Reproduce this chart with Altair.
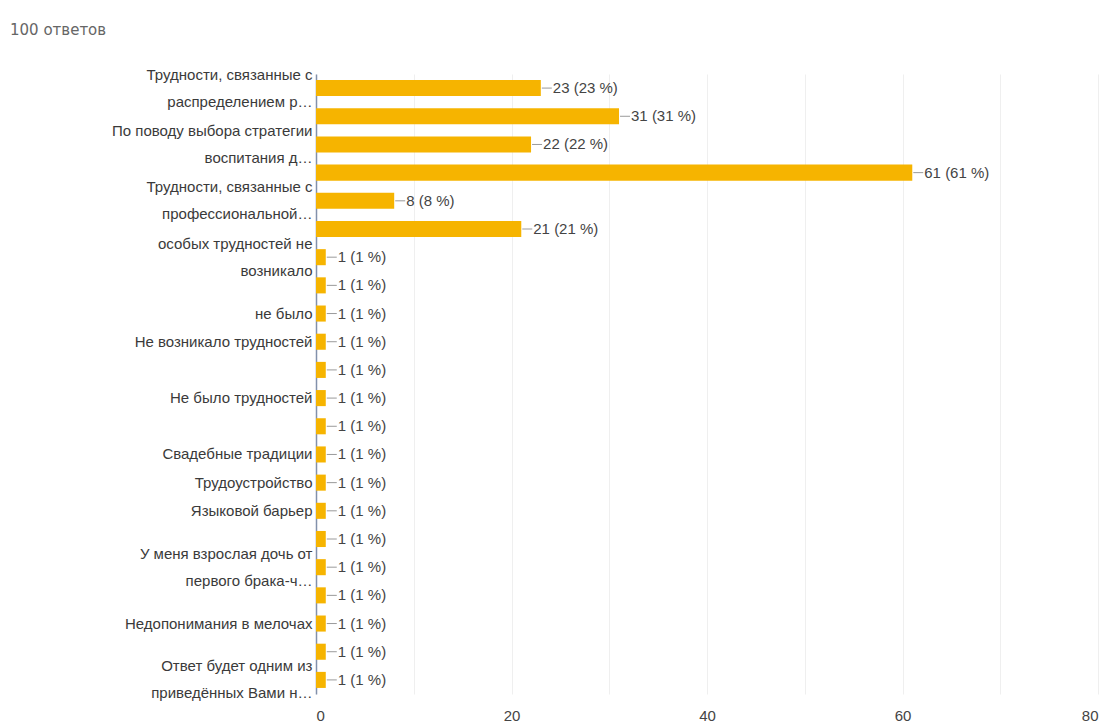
import json
import altair as alt
import pandas as pd

# --- data ---
labels = [
    "Трудности, связанные с|распределением р…",
    "",
    "По поводу выбора стратегии|воспитания д…",
    "",
    "Трудности, связанные с|профессиональной…",
    "",
    "особых трудностей не|возникало",
    "",
    "не было",
    "Не возникало трудностей",
    "",
    "Не было трудностей",
    "",
    "Свадебные традиции",
    "Трудоустройство",
    "Языковой барьер",
    "",
    "У меня взрослая дочь от|первого брака-ч…",
    "",
    "Недопонимания в мелочах",
    "",
    "Ответ будет одним из|приведённых Вами н…",
]
values = [23, 31, 22, 61, 8, 21] + [1] * 16
total = 100
x_ticks = [0, 10, 20, 30, 40, 50, 60, 70, 80]

df = pd.DataFrame({
    "idx": list(range(len(values))),
    "value": values,
})
df["ann"] = [f"{v} ({round(v * 100 / total)} %)" for v in values]

FONT = "Liberation Sans"
labels_js = json.dumps(labels, ensure_ascii=False)
label_expr = f"split({labels_js}[datum.value], '|')"
multi_test = f"indexof({labels_js}[datum.value], '|') >= 0"

y_enc = alt.Y(
    "idx:O",
    scale=alt.Scale(paddingInner=0.43, paddingOuter=0.215),
    axis=alt.Axis(
        title=None,
        ticks=False,
        grid=False,
        domain=True,
        domainColor="#8291ab",
        domainWidth=1.5,
        labelExpr=label_expr,
        labelFont=FONT,
        labelFontSize=15,
        labelColor="#3a3a3a",
        labelPadding=4,
        labelLimit=0,
        labelOverlap=False,
        labelLineHeight=27,
        labelBaseline="middle",
        labelOffset={"condition": {"test": multi_test, "value": -13.5}, "value": 0},
        minExtent=306,
        maxExtent=306,
    ),
)

x_enc = alt.X(
    "value:Q",
    scale=alt.Scale(domain=[0, 80], nice=False),
    axis=alt.Axis(
        title=None,
        values=x_ticks,
        labelExpr="datum.value % 20 == 0 ? datum.label : ''",
        ticks=False,
        domain=False,
        grid=True,
        gridColor="#efefef",
        labelFont=FONT,
        labelFontSize=15,
        labelColor="#444444",
        labelPadding=14,
    ),
)

base = alt.Chart(df)

bars = base.mark_bar(color="#f6b400").encode(y=y_enc, x=x_enc)

stems = base.mark_rule(color="#9a9a9a", strokeWidth=1, xOffset=1, x2Offset=11).encode(
    y=alt.Y("idx:O"),
    x=alt.X("value:Q"),
    x2="value:Q",
)

texts = base.mark_text(
    align="left", baseline="middle", dx=12, font=FONT, fontSize=15, color="#444444"
).encode(
    y=alt.Y("idx:O"),
    x=alt.X("value:Q"),
    text="ann:N",
)

chart = (
    alt.layer(bars, stems, texts)
    .properties(
        width=782,
        height=620,
        padding={"left": 2, "top": 15, "right": 2, "bottom": 0},
        title=alt.TitleParams(
            "100 ответов",
            anchor="start",
            frame="bounds",
            font="DejaVu Sans",
            fontSize=15,
            fontWeight="normal",
            color="#666666",
            offset=29,
        ),
    )
    .configure_view(stroke=None)
)

chart.save("out.html", embed_options={"renderer": "svg", "actions": False})
